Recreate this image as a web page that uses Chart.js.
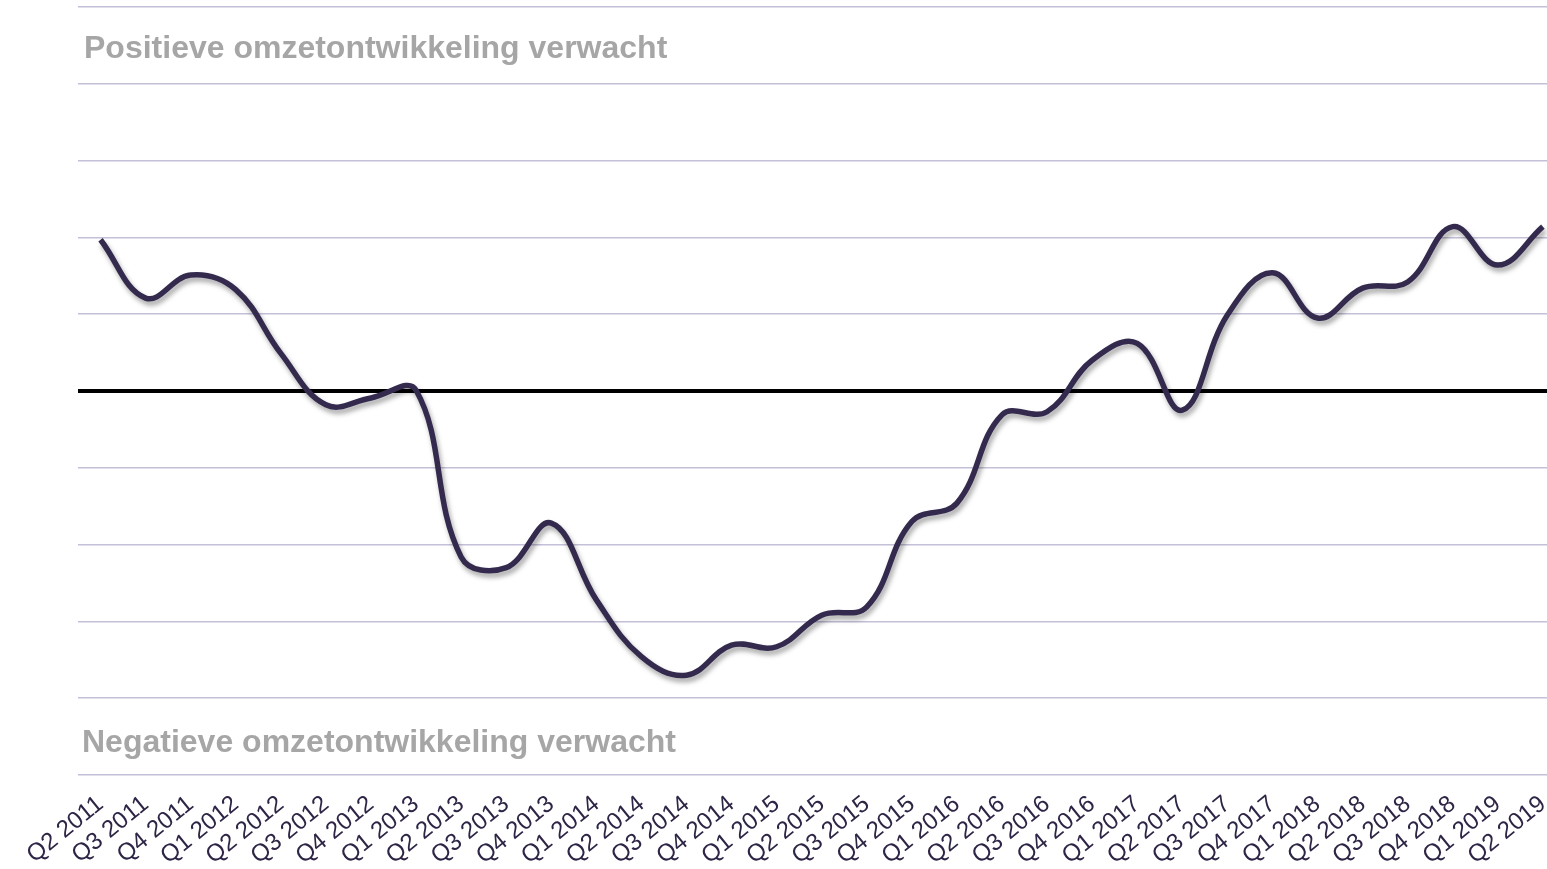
<!DOCTYPE html>
<html lang="nl">
  <head>
    <meta charset="UTF-8" />
    <title>Omzetontwikkeling</title>
    <script src="https://cdn.jsdelivr.net/npm/chart.js"></script>
    <style>
      html,
      body {
        margin: 0;
        padding: 0;
        background: #fff;
        overflow: hidden;
      }
      .chart-box {
        position: absolute;
        left: 0;
        top: 0;
        width: 1576px;
        height: 869px;
      }
    </style>
  </head>
  <body>
    <div class="chart-box">
      <canvas id="myChart"></canvas>
    </div>

    <script>
      const quarters = [
        "Q2 2011", "Q3 2011", "Q4 2011", "Q1 2012", "Q2 2012", "Q3 2012",
        "Q4 2012", "Q1 2013", "Q2 2013", "Q3 2013", "Q4 2013", "Q1 2014",
        "Q2 2014", "Q3 2014", "Q4 2014", "Q1 2015", "Q2 2015", "Q3 2015",
        "Q4 2015", "Q1 2016", "Q2 2016", "Q3 2016", "Q4 2016", "Q1 2017",
        "Q2 2017", "Q3 2017", "Q4 2017", "Q1 2018", "Q2 2018", "Q3 2018",
        "Q4 2018", "Q1 2019", "Q2 2019",
      ];

      const verwachting = [
        1.97, 1.21, 1.51, 1.32, 0.49, -0.18, -0.09, 0.01, -2.16, -2.3, -1.72,
        -2.72, -3.46, -3.7, -3.31, -3.33, -2.92, -2.81, -1.7, -1.46, -0.31,
        -0.27, 0.4, 0.62, -0.25, 0.99, 1.54, 0.95, 1.34, 1.42, 2.14, 1.64,
        2.14,
      ];

      const topText = "Positieve omzetontwikkeling verwacht";
      const bottomText = "Negatieve omzetontwikkeling verwacht";

      // schaduw onder de lijn
      const lineShadow = {
        id: "lineShadow",
        beforeDatasetDraw(chart) {
          const c = chart.ctx;
          c.save();
          c.shadowColor = "rgba(0, 0, 0, 0.35)";
          c.shadowBlur = 5;
          c.shadowOffsetX = 2;
          c.shadowOffsetY = 4;
        },
        afterDatasetDraw(chart) {
          chart.ctx.restore();
        },
      };

      const sideTexts = {
        id: "sideTexts",
        beforeDatasetsDraw(chart) {
          const c = chart.ctx;
          c.save();
          c.fillStyle = "#a6a6a6";
          c.font = "bold 32px 'Liberation Sans', Arial, sans-serif";
          c.textBaseline = "alphabetic";
          c.fillText(topText, 84, 58);
          c.fillText(bottomText, 82, 752);
          c.restore();
        },
      };

      let ctx = document.getElementById("myChart");

      let chart = new Chart(ctx, {
        type: "line",
        data: {
          labels: quarters,
          datasets: [
            {
              label: "Omzetverwachting",
              data: verwachting,
              borderColor: "#342a4e",
              borderWidth: 5.5,
              pointRadius: 0,
              tension: 0.4,
              fill: false,
            },
          ],
        },
        options: {
          responsive: true,
          maintainAspectRatio: false,
          animation: false,
          layout: {
            padding: { left: 78, top: 7, right: 0, bottom: 0 },
          },
          plugins: {
            legend: { display: false },
            tooltip: { enabled: false },
          },
          scales: {
            x: {
              offset: true,
              grid: { display: false, drawTicks: false },
              border: { display: false },
              afterFit: (s) => {
                s.height = 94;
              },
              ticks: {
                autoSkip: false,
                minRotation: 39,
                maxRotation: 39,
                padding: 15,
                color: "#2e2445",
                font: { family: "'Liberation Sans', Arial, sans-serif", size: 24 },
              },
            },
            y: {
              min: -5,
              max: 5,
              afterFit: (s) => {
                s.width = 0;
              },
              border: { display: false },
              ticks: { display: false, stepSize: 1 },
              grid: {
                drawTicks: false,
                color: (c) => (c.tick && c.tick.value === 0 ? "#000" : "#c3c0d8"),
                lineWidth: (c) => (c.tick && c.tick.value === 0 ? 4 : 1.5),
              },
            },
          },
        },
        plugins: [lineShadow, sideTexts],
      });
    </script>
  </body>
</html>
